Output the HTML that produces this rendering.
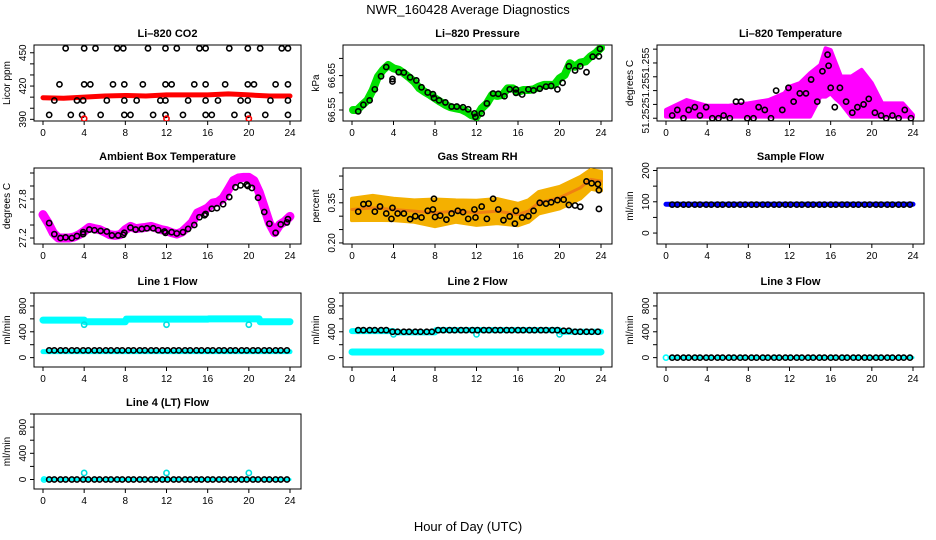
<!DOCTYPE html>
<html><head><meta charset="utf-8"><title>NWR_160428 Average Diagnostics</title>
<style>
html,body{margin:0;padding:0;background:#fff;}
svg{display:block;font-family:"Liberation Sans",Arial,sans-serif;}
</style></head>
<body>
<svg id="chart" width="936" height="540" viewBox="0 0 936 540" xmlns="http://www.w3.org/2000/svg">
<rect width="936" height="540" fill="#fff"/>
<text x="468" y="14" font-size="13" text-anchor="middle">NWR_160428  Average Diagnostics</text>
<text x="468" y="531" font-size="13" text-anchor="middle">Hour of Day (UTC)</text>
</svg>
<script>
// ---------- data ----------
const xTicks=[0,4,8,12,16,20,24];
const circleHours=[0.6,1.1,1.7,2.2,2.8,3.3,3.9,4.4,5.0,5.5,6.1,6.6,7.2,7.7,8.3,8.8,9.4,9.9,10.5,11.0,11.6,12.1,12.7,13.2,13.8,14.3,14.9,15.4,16.0,16.5,17.1,17.6,18.2,18.7,19.3,19.8,20.4,20.9,21.5,22.0,22.6,23.1,23.7];
const bandHours=[0,2,4,6,8,10,12,14,16,18,20,22,24];
// CO2
const co2BandVals=[409.5,409,410,411,411.5,411,412,412,412,413,412,411,411];
const co2HiHours=[2.2,4,5.1,7.2,7.8,10.2,11.9,13,15.2,15.8,18.1,19.9,21.1,23.2,23.8];
const co2HiVals=[454,454,454,454,454,454,454,454,454,454,454,454,454,454,454];
const co2MidHours=[1.6,4,4.6,6.8,7.9,9.7,11.9,12.5,14.7,15.8,17.7,19.9,20.5,22.6,23.8];
const co2MidVals=[421.5,421.5,421.5,421.5,421.5,421.5,421.5,421.5,421.5,421.5,421.5,421.5,421.5,421.5,421.5];
const co2LowHours=[1.1,3.3,3.9,6.2,7.9,9.1,11.4,11.9,14.1,15.8,17,19.2,19.9,22.1,23.8];
const co2LowVals=[407,407,407,407,407,407,407,407,407,407,407,407,407,407,407];
const co2BotHours=[0.6,2.7,3.8,5.6,7.9,8.5,10.7,11.9,13.6,15.8,16.4,18.6,19.9,21.6,23.8];
const co2BotVals=[394,394,394,394,394,394,394,394,394,394,394,394,394,394,394];
const co2RedHours=[4,12,20];
const co2RedVals=[390.6,390.6,390.6];
// Pressure
const presHours=[0.1,0.5,1,1.5,2,2.5,3,3.5,4,4.5,5,5.5,6,6.5,7,7.5,8,8.5,9,9.5,10,10.5,11,11.5,12,12.5,13,13.5,14,14.5,15,15.5,16,16.5,17,17.5,18,18.5,19,19.5,20,20.5,21,21.5,22,22.5,23,23.5,24];
const presVals=[66.550,66.550,66.565,66.579,66.608,66.647,66.667,66.681,66.671,66.667,66.657,66.645,66.632,66.613,66.603,66.594,66.584,66.574,66.565,66.558,66.555,66.552,66.545,66.535,66.530,66.555,66.569,66.594,66.591,66.594,66.613,66.613,66.603,66.608,66.608,66.610,66.618,66.623,66.623,66.623,66.642,66.652,66.686,66.676,66.688,66.691,66.706,66.716,66.731];
const presPtHours=[0.6,1.1,1.7,2.2,2.8,3.3,3.9,3.9,4.5,5,5.6,6.2,6.7,7.3,7.8,7.9,8.4,9,9.6,10.1,10.7,11.2,11.8,11.9,12.5,13,13.6,14.1,14.7,15.2,15.8,15.8,16.4,17,17.5,18.1,18.7,19.2,19.8,20.3,20.9,21.5,22,22.6,23.2,23.8,23.9];
const presPtVals=[66.546,66.565,66.578,66.61,66.648,66.675,66.64,66.633,66.66,66.659,66.645,66.636,66.616,66.601,66.596,66.585,66.578,66.572,66.56,66.56,66.558,66.552,66.54,66.53,66.54,66.569,66.598,66.597,66.59,66.61,66.61,66.6,66.595,66.61,66.607,66.612,66.618,66.62,66.61,66.629,66.677,66.665,66.677,66.66,66.705,66.706,66.728];
// Li-820 temperature
const tempHours=[0,2,4,6,8,10,11.5,12,13,14,15,15.5,16,16.5,17,18,19,20,21,22,23,24];
const tempUpper=[51.2523,51.25266,51.25245,51.25245,51.25254,51.25266,51.2529,51.25314,51.25327,51.25363,51.25393,51.25453,51.25447,51.25399,51.25351,51.25351,51.25375,51.25327,51.25254,51.25254,51.25254,51.25212];
const tempLower=[51.25206,51.25206,51.25206,51.25206,51.25206,51.25206,51.25206,51.25206,51.25206,51.25206,51.25278,51.25278,51.2529,51.2527,51.25254,51.25206,51.25206,51.25206,51.25206,51.25206,51.25206,51.25206];
const tempPtHours=[0.6,1.1,1.7,2.2,2.8,3.3,3.9,4.5,5.1,5.6,6.2,6.8,7.3,7.9,8.5,9.0,9.6,10.2,10.7,11.3,11.9,12.4,13,13.6,14.1,14.7,15.2,15.7,15.8,16,16.4,16.9,17.5,18.1,18.6,19.2,19.7,20.3,20.9,21.4,22,22.6,23.2,23.8];
const tempPtVals=[51.2521,51.2523,51.2520,51.2523,51.2524,51.2521,51.2524,51.2520,51.2520,51.2521,51.2520,51.2526,51.2526,51.2520,51.2520,51.2524,51.2523,51.2520,51.2530,51.2523,51.2531,51.2526,51.2529,51.2529,51.2534,51.2526,51.2537,51.2543,51.2539,51.2531,51.2524,51.2531,51.2526,51.2522,51.2524,51.2525,51.2527,51.2522,51.2521,51.2520,51.2521,51.2520,51.2523,51.2520];
// Ambient box temperature
const ambHours=[0,0.5,1,1.5,2,2.5,3,3.5,4,4.5,5,5.5,6,6.5,7,7.5,8,8.5,9,9.5,10,10.5,11,11.5,12,12.5,13,13.5,14,14.5,15,15.5,16,16.5,17,17.5,18,18.5,19,19.5,20,20.5,21,21.5,22,22.5,23,23.5,24];
const ambVals=[27.559,27.431,27.277,27.2,27.2,27.2,27.215,27.251,27.303,27.364,27.344,27.328,27.292,27.251,27.241,27.251,27.328,27.379,27.344,27.354,27.364,27.379,27.354,27.328,27.313,27.282,27.262,27.292,27.364,27.441,27.585,27.621,27.662,27.738,27.754,27.815,27.944,28.082,28.123,28.133,28.133,28.082,27.908,27.672,27.431,27.282,27.405,27.456,27.533];
const ambPtHours=[0.6,1.1,1.7,2.2,2.8,3.3,3.9,3.9,4.5,5,5.6,6.2,6.7,7.3,7.8,7.9,8.5,9,9.6,10.1,10.7,11.2,11.8,11.9,12.5,13,13.6,14.1,14.7,15.2,15.7,15.8,16.4,16.9,17.5,18.1,18.7,19.2,19.8,19.9,20.3,20.9,21.5,22,22.6,23.1,23.7,23.8];
const ambPtVals=[27.43,27.26,27.2,27.21,27.2,27.23,27.26,27.29,27.33,27.32,27.31,27.3,27.24,27.24,27.25,27.28,27.36,27.33,27.34,27.35,27.35,27.32,27.3,27.28,27.29,27.27,27.29,27.34,27.4,27.52,27.55,27.57,27.65,27.66,27.72,27.83,27.98,28.01,28.02,28,27.97,27.82,27.6,27.42,27.28,27.41,27.44,27.49];
// Gas stream RH
const rhHours=[0,2,4,6,8,10,12,14,16,17,18,20,22,23,24];
const rhCenter=[0.325,0.331,0.325,0.319,0.3125,0.319,0.3125,0.319,0.306,0.319,0.35,0.369,0.406,0.4375,0.431];
const rhHalfWidth=[0.04,0.045,0.04,0.04,0.05,0.04,0.045,0.045,0.04,0.04,0.04,0.04,0.04,0.035,0.035];
const rhPtHours=[0.6,1.1,1.6,2.2,2.7,3.3,3.8,3.9,4.4,5.0,5.6,6.1,6.7,7.3,7.8,7.9,8,8.5,9.1,9.6,10.2,10.7,11.2,11.8,11.9,12.5,13,13.6,14.1,14.6,15.2,15.7,15.8,16.4,17,17.5,18.1,18.7,19.2,19.8,20.4,20.9,21.5,22.0,22.6,23.1,23.7,23.8,23.8];
const rhPtVals=[0.317,0.345,0.347,0.317,0.336,0.31,0.29,0.331,0.31,0.31,0.289,0.3,0.295,0.32,0.325,0.365,0.297,0.302,0.287,0.31,0.32,0.315,0.29,0.325,0.295,0.336,0.29,0.365,0.325,0.285,0.299,0.272,0.32,0.295,0.3,0.32,0.35,0.347,0.352,0.36,0.362,0.342,0.34,0.335,0.43,0.423,0.42,0.397,0.327];
// Sample flow
const sampleBandHours=[0,24];
const sampleBandVals=[92,92];
const sampleCircleVal=[91];
// Line flows
const line1UpperHours=[0,4,4.1,8,8.1,16,16.1,21,21.1,24];
const line1UpperVals=[580,580,555,555,595,595,600,600,555,555];
const line1LowerHours=[0,24];
const line1LowerVals=[92,92];
const line1DipHours=[4,12,20];
const line1DipVals=[510,510,510];
const line1CircleVal=[112];
const line2UpperHours=[0,4,4.1,8,8.1,20,20.1,24];
const line2UpperVals=[410,410,390,390,425,425,400,400];
const line2LowerHours=[0,24];
const line2LowerVals=[88,88];
const line2DipHours=[4,12,20];
const line2DipVals=[360,360,360];
const line2CircleVals=[425,425,425,425,425,425,400,400,400,400,400,400,400,400,425,425,425,425,425,425,425,425,425,425,425,425,425,425,425,425,425,425,425,425,425,425,415,415,400,400,400,400,400];
const line3CircleVal=[0];
const line3StartVal=[0];
const line4CircleVal=[0];
const line4SpikeHours=[4,12,20];
const line4SpikeVals=[100,100,100];

// ---------- layout ----------
const NS="http://www.w3.org/2000/svg";
const svg=document.getElementById('chart');
const colBox=[[34,301],[343,612],[657,924]];
const rowBox=[[45,121],[168,244],[293,367],[414,489]];
function mk(tag,attrs,parent){const e=document.createElementNS(NS,tag);for(const k in attrs)e.setAttribute(k,attrs[k]);(parent||svg).appendChild(e);return e;}

function panel(name,col,row,title,ylab,ylim,yticks,ylabels){
  const [x0,x1]=colBox[col],[y0,y1]=rowBox[row];
  const g=mk('g',{});
  
  
  const sx=h=>x0+9+(x1-x0-20)*h/24;
  const sy=v=>y1-(v-ylim[0])/(ylim[1]-ylim[0])*(y1-y0);
  const t=mk('text',{x:(x0+x1)/2,y:y0-8,'font-size':11,'font-weight':'bold','text-anchor':'middle'},g);
  t.textContent=title;
  
  
  const box=mk('rect',{x:x0,y:y0,width:x1-x0,height:y1-y0,fill:'none',stroke:'#000','stroke-width':1},g);
  
  
  const xa=mk('g',{},g);
  
  
  mk('line',{x1:sx(xTicks[0]),x2:sx(xTicks[xTicks.length-1]),y1:y1,y2:y1,stroke:'#000'},xa);
  xTicks.forEach(h=>{
    mk('line',{x1:sx(h),x2:sx(h),y1:y1,y2:y1+4,stroke:'#000'},xa);
    const l=mk('text',{x:sx(h),y:y1+15,'font-size':10,'text-anchor':'middle'},xa);
    l.textContent=h;
    
    
  });
  const ya=mk('g',{},g);
  
  
  yticks.forEach((v,i)=>{
    mk('line',{x1:x0-4,x2:x0,y1:sy(v),y2:sy(v),stroke:'#000'},ya);
    if(ylabels[i]){
      const l=mk('text',{x:0,y:0,'font-size':10,'text-anchor':'middle',transform:`translate(${x0-8},${sy(v)}) rotate(-90)`},ya);
      l.textContent=ylabels[i];
      
      
    }
  });
  const yt=mk('text',{x:0,y:0,'font-size':10,'text-anchor':'middle',transform:`translate(${x0-24},${(y0+y1)/2}) rotate(-90)`},g);
  yt.textContent=ylab;
  
  
  const clip='clip'+name;
  const cp=mk('clipPath',{id:clip},g);mk('rect',{x:x0,y:y0,width:x1-x0,height:y1-y0},cp);
  const plot=mk('g',{'clip-path':`url(#${clip})`},g);
  
  
  return {sx,sy,g:plot};
}
function band(p,hours,vals,color,w,nm){
  const pl=mk('polyline',{points:hours.map((h,i)=>p.sx(h)+','+p.sy(vals[i])).join(' '),fill:'none',stroke:color,'stroke-width':w,'stroke-linejoin':'round','stroke-linecap':'round'},p.g);
  
  
}
function area(p,hours,lo,hi,color,nm){
  const pts=hours.map((h,i)=>p.sx(h)+','+p.sy(hi[i])).concat(hours.slice().reverse().map((h,j)=>{const i=hours.length-1-j;return p.sx(h)+','+p.sy(lo[i]);}));
  const pg=mk('polygon',{points:pts.join(' '),fill:color,stroke:color,'stroke-width':4,'stroke-linejoin':'round'},p.g);
  
  
}
function pts(p,hours,vals,color,nm,r,sw){
  hours.forEach((h,i)=>{
    const c=mk('circle',{cx:p.sx(h),cy:p.sy(vals[i]),r:r||2.6,fill:'none',stroke:color,'stroke-width':sw||1.6},p.g);
    
    
  });
}
function ptsConst(p,hours,val,color,nm){pts(p,hours,hours.map(()=>val),color,nm);}

// Row 1
let p=panel('li820-co2',0,0,'Li\u2013820 CO2','Licor ppm',[388.5,457],[390,400,410,420,430,440,450],['390','','','420','','','450']);
band(p,bandHours,co2BandVals,'#ff0000',5,'co2-red-series');
pts(p,co2HiHours,co2HiVals,'#000','co2-point');
pts(p,co2MidHours,co2MidVals,'#000','co2-point');
pts(p,co2LowHours,co2LowVals,'#000','co2-point');
pts(p,co2BotHours,co2BotVals,'#000','co2-point');
pts(p,co2RedHours,co2RedVals,'#ff0000','co2-red-point');

p=panel('li820-pressure',1,0,'Li\u2013820 Pressure','kPa',[66.518,66.739],[66.55,66.60,66.65,66.70],['66.55','','66.65','']);
band(p,presHours,presVals,'#00e000',8,'pressure-green-series');
pts(p,presPtHours,presPtVals,'#000','pressure-point');

p=panel('li820-temperature',2,0,'Li\u2013820 Temperature','degrees C',[51.2519,51.25465],[51.252,51.2525,51.253,51.2535,51.254,51.2545],['51.252','','51.25','','51.255','']);
area(p,tempHours,tempLower,tempUpper,'#ff00ff','temperature-magenta-cloud');
pts(p,tempPtHours,tempPtVals,'#000','temperature-point');

// Row 2
p=panel('ambient-box-temperature',0,1,'Ambient Box Temperature','degrees C',[27.108,28.277],[27.2,27.4,27.6,27.8,28.0,28.2],['27.2','','','27.8','','']);
band(p,ambHours,ambVals,'#ff00ff',9,'ambient-magenta-series');
pts(p,ambPtHours,ambPtVals,'#000','ambient-point');

p=panel('gas-stream-rh',1,1,'Gas Stream RH','percent',[0.196,0.48],[0.20,0.25,0.30,0.35,0.40,0.45],['0.20','','','0.35','','']);
area(p,rhHours,rhCenter.map((c,i)=>c-rhHalfWidth[i]),rhCenter.map((c,i)=>c+rhHalfWidth[i]),'#f4b000','rh-orange-cloud');
band(p,rhHours,rhCenter,'#f08010',3,'rh-center-series');
pts(p,rhPtHours,rhPtVals,'#000','rh-point');

p=panel('sample-flow',2,1,'Sample Flow','ml/min',[-35,208],[0,50,100,150,200],['0','','100','','200']);
band(p,sampleBandHours,sampleBandVals,'#0000ff',5,'sample-flow-blue-series');
ptsConst(p,circleHours,sampleCircleVal[0],'#000','sample-flow-point');

// Row 3
const flowTicks=[0,200,400,600,800,1000],flowLabels=['0','','400','','800',''];
p=panel('line-1-flow',0,2,'Line 1 Flow','ml/min',[-145,1000],flowTicks,flowLabels);
band(p,line1UpperHours,line1UpperVals,'#00ffff',7,'line1-upper-cyan-series');
band(p,line1LowerHours,line1LowerVals,'#00ffff',5,'line1-lower-cyan-series');
pts(p,line1DipHours,line1DipVals,'#00e0e0','line1-dip-point');
ptsConst(p,circleHours,line1CircleVal[0],'#000','line1-point');

p=panel('line-2-flow',1,2,'Line 2 Flow','ml/min',[-145,1000],flowTicks,flowLabels);
band(p,line2UpperHours,line2UpperVals,'#00ffff',6,'line2-upper-cyan-series');
band(p,line2LowerHours,line2LowerVals,'#00ffff',7,'line2-lower-cyan-series');
pts(p,line2DipHours,line2DipVals,'#00e0e0','line2-dip-point');
pts(p,circleHours,line2CircleVals,'#000','line2-point');

p=panel('line-3-flow',2,2,'Line 3 Flow','ml/min',[-145,1000],flowTicks,flowLabels);
pts(p,[0],line3StartVal,'#00ffff','line3-cyan-point');
band(p,[0.3,24],[0,0],'#00ffff',3,'line3-cyan-series');
ptsConst(p,circleHours,line3CircleVal[0],'#000','line3-point');

// Row 4
p=panel('line-4-flow',0,3,'Line 4 (LT) Flow','ml/min',[-145,1000],flowTicks,flowLabels);
band(p,[0,24],[0,0],'#00ffff',3,'line4-cyan-series');
pts(p,[0.1],[0],'#00ffff','line4-cyan-point');
pts(p,line4SpikeHours,line4SpikeVals,'#00e0e0','line4-spike-point');
ptsConst(p,circleHours,line4CircleVal[0],'#000','line4-point');
</script>
</body></html>
